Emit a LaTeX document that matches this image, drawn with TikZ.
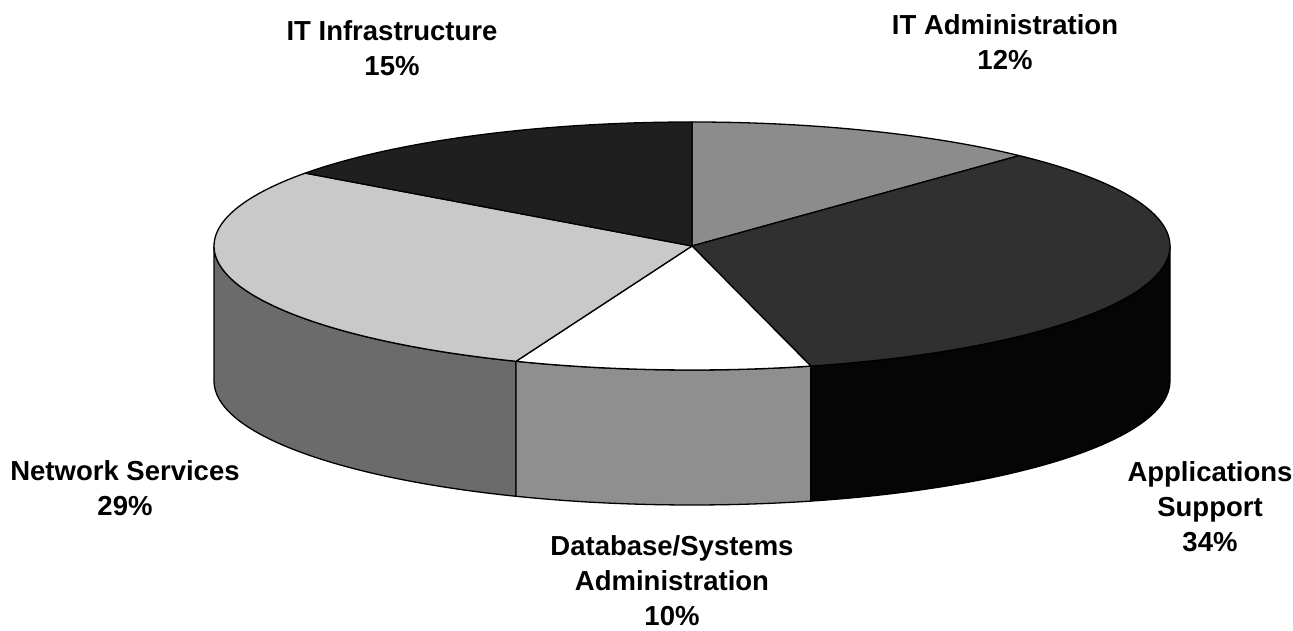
\documentclass[tikz,border=0pt]{standalone}
\usepackage{fontspec}
\setmainfont{Liberation Sans}
\definecolor{infratop}{gray}{0.12}
\definecolor{admtop}{gray}{0.55}
\definecolor{apptop}{gray}{0.19}
\definecolor{appside}{gray}{0.02}
\definecolor{dbside}{gray}{0.56}
\definecolor{nettop}{gray}{0.79}
\definecolor{netside}{gray}{0.42}
\tikzset{
  edge/.style={line width=1.3pt, line join=round},
  piecelabel/.style={font=\bfseries\fontsize{27.5}{35}\selectfont, align=center}
}

\begin{document}
\begin{tikzpicture}[x=1pt,y=1pt]
\useasboundingbox (0,0) rectangle (1293,631);
\coordinate (top) at (692,385);
\coordinate (bot) at (692,250);

% sides
\filldraw[edge, fill=netside] (top) ++(180:478pt and 124pt) arc[start angle=180, end angle=248.4, x radius=478pt, y radius=124pt] -- ++(0,-135) arc[start angle=248.4, end angle=180, x radius=478pt, y radius=124pt] -- cycle;
\filldraw[edge, fill=dbside] (top) ++(248.4:478pt and 124pt) arc[start angle=248.4, end angle=284.4, x radius=478pt, y radius=124pt] -- ++(0,-135) arc[start angle=284.4, end angle=248.4, x radius=478pt, y radius=124pt] -- cycle;
\filldraw[edge, fill=appside] (top) ++(284.4:478pt and 124pt) arc[start angle=284.4, end angle=360, x radius=478pt, y radius=124pt] -- ++(0,-135) arc[start angle=360, end angle=284.4, x radius=478pt, y radius=124pt] -- cycle;

% top slices
\filldraw[edge, fill=admtop] (top) -- ++(90:478pt and 124pt) arc[start angle=90, end angle=46.8, x radius=478pt, y radius=124pt] -- cycle;
\filldraw[edge, fill=apptop] (top) -- ++(46.8:478pt and 124pt) arc[start angle=46.8, end angle=-75.6, x radius=478pt, y radius=124pt] -- cycle;
\filldraw[edge, fill=white] (top) -- ++(-75.6:478pt and 124pt) arc[start angle=-75.6, end angle=-111.6, x radius=478pt, y radius=124pt] -- cycle;
\filldraw[edge, fill=nettop] (top) -- ++(-111.6:478pt and 124pt) arc[start angle=-111.6, end angle=-216, x radius=478pt, y radius=124pt] -- cycle;
\filldraw[edge, fill=infratop] (top) -- ++(-216:478pt and 124pt) arc[start angle=-216, end angle=-270, x radius=478pt, y radius=124pt] -- cycle;

% labels
\node[piecelabel] (infra) at (392,583) {IT Infrastructure\\15\%};
\node[piecelabel] (adm) at (1005,589) {IT Administration\\12\%};
\node[piecelabel] (net) at (125,143) {Network Services\\29\%};
\node[piecelabel] (db) at (672,50) {Database/Systems\\Administration\\10\%};
\node[piecelabel] (app) at (1210,124) {Applications\\Support\\34\%};
\end{tikzpicture}
\end{document}
